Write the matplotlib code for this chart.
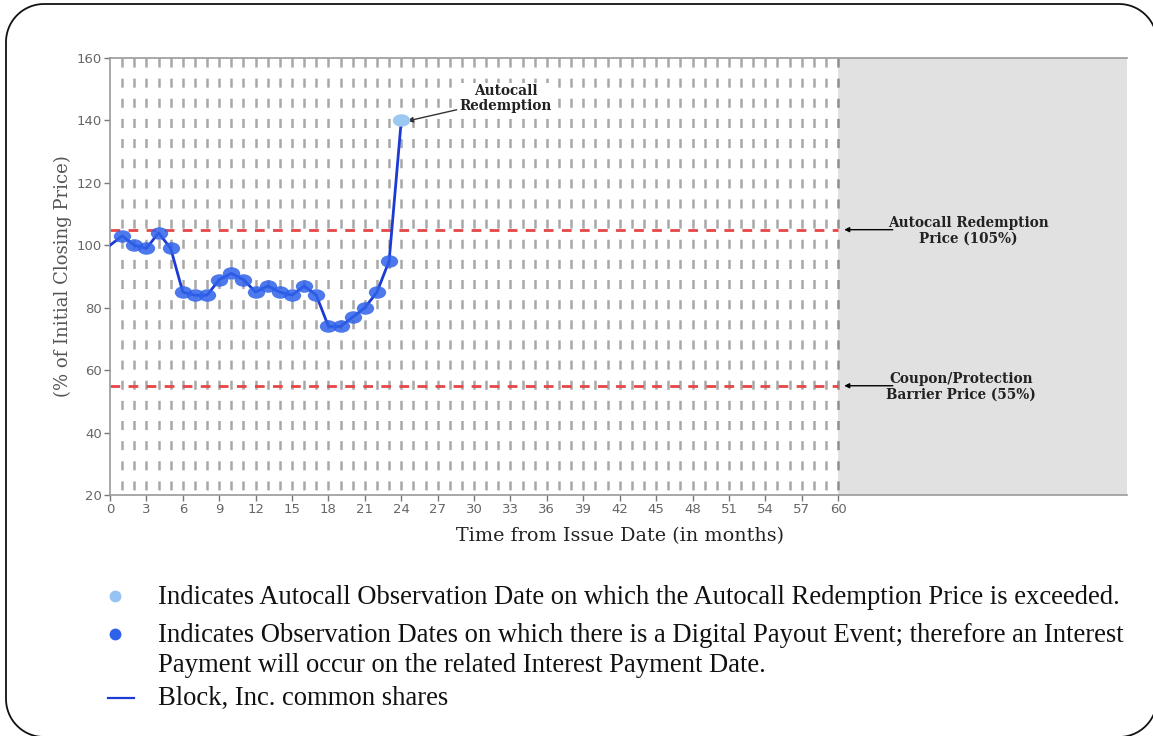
import matplotlib.pyplot as plt
import matplotlib.transforms as mtransforms
from matplotlib.patches import PathPatch
from matplotlib.path import Path
import numpy as np

plt.rcParams['lines.scale_dashes'] = False

months = list(range(0, 25))
price = [100, 103, 100, 99, 104, 99, 85, 84, 84, 89, 91, 89, 85, 87, 85, 84,
         87, 84, 74, 74, 77, 80, 85, 95, 140]
payout_months = months[1:24]
payout_vals = price[1:24]
autocall_month = [24]
autocall_val = [140]
redemption_level = 105
barrier_level = 55
term = 60
x_ticks = list(range(0, 61, 3))
y_ticks = list(range(20, 161, 20))

W, H = 1153, 736
fig = plt.figure(figsize=(W / 100, H / 100), dpi=100)
ax = fig.add_axes([110 / W, 1 - 495 / H, (1127 - 110) / W, (495 - 58) / H])
ax.set_xlim(0, 83.8)
ax.set_ylim(20, 160)

# shaded area after the term
ax.axvspan(term, 83.8, color='#e1e1e1', zorder=0, lw=0)

# vertical dashed grid, one per month
for m in range(1, term + 1):
    c = '#a8a8a8' if m < term else '#8f8f8f'
    ax.plot([m, m], [160, 20], color=c, lw=1.8, ls=(0, (6.5, 8)), zorder=1)

# red level lines
for lvl in (redemption_level, barrier_level):
    ax.plot([0, term], [lvl, lvl], color='#e64646', lw=2.0, ls=(0, (7, 6)), zorder=2)

# ellipse marker
circ = Path.unit_circle()
ell = Path(circ.vertices * np.array([1.0, 0.72]), circ.codes)

ax.plot(months, price, color='#1c3ad4', lw=2.0, zorder=4)
ax.plot(payout_months, payout_vals, ls='none', marker=ell, ms=12.5,
        mfc='#2f62ea', mec='none', alpha=0.85, zorder=5)
ax.plot(autocall_month, autocall_val, ls='none', marker=ell, ms=12.5,
        mfc='#9cc8f2', mec='none', zorder=6)

ax.set_xticks(x_ticks)
ax.set_yticks(y_ticks)
ax.tick_params(colors='#777777', labelcolor='#666666', labelsize=9.5,
               length=4, width=1, pad=2)
for s in ('left', 'bottom', 'top'):
    ax.spines[s].set_color('#999999')
    ax.spines[s].set_linewidth(1.2)
ax.spines['right'].set_visible(False)

ax.set_ylabel('(% of Initial Closing Price)', family='DejaVu Serif',
              fontsize=13, color='#555555')
ax.yaxis.set_label_coords(-0.037, 0.5)
ax.set_xlabel('Time from Issue Date (in months)', family='DejaVu Serif',
              fontsize=13.8, color='#222222')
ax.xaxis.set_label_coords((620 - 110) / (1127 - 110), -0.073)

bold = dict(family='DejaVu Serif', fontweight='bold', fontsize=9.8,
            color='#222222', ha='center', va='center', linespacing=1.1)
ax.annotate('Autocall\nRedemption', xy=(24.5, 139.8), xytext=(32.6, 147.0),
            arrowprops=dict(arrowstyle='-|>', color='#333333', lw=1,
                            mutation_scale=8, shrinkA=1, shrinkB=0),
            bbox=dict(boxstyle='square,pad=0.1', fc='white', ec='none'),
            **bold)
ax.annotate('', xy=(60.5, redemption_level), xytext=(64.5, redemption_level),
            arrowprops=dict(arrowstyle='-|>', color='black', lw=1,
                            mutation_scale=7, shrinkA=0, shrinkB=0))
ax.text(70.7, 104.6, 'Autocall Redemption\nPrice (105%)', **bold)
ax.annotate('', xy=(60.5, barrier_level), xytext=(64.5, barrier_level),
            arrowprops=dict(arrowstyle='-|>', color='black', lw=1,
                            mutation_scale=7, shrinkA=0, shrinkB=0))
ax.text(70.1, 54.7, 'Coupon/Protection\nBarrier Price (55%)', **bold)

# legend notes below the chart
serif = dict(family='Liberation Serif', fontsize=19.2, color='#111111', va='center')
fig.text(158 / W, 1 - 598 / H,
         'Indicates Autocall Observation Date on which the Autocall Redemption Price is exceeded.',
         **serif)
fig.text(158 / W, 1 - 636 / H,
         'Indicates Observation Dates on which there is a Digital Payout Event; therefore an Interest',
         **serif)
fig.text(158 / W, 1 - 665 / H,
         'Payment will occur on the related Interest Payment Date.', **serif)
fig.text(158 / W, 1 - 698 / H, 'Block, Inc. common shares', **serif)
fig.lines.append(plt.Line2D([115 / W], [1 - 596 / H], transform=fig.transFigure,
                            marker='o', ms=7.5, color='#96c3f3', ls='none'))
fig.lines.append(plt.Line2D([115 / W], [1 - 634 / H], transform=fig.transFigure,
                            marker='o', ms=7.5, color='#2f62ea', ls='none'))
fig.lines.append(plt.Line2D([108 / W, 134 / W], [1 - 698 / H, 1 - 698 / H],
                            transform=fig.transFigure, color='#1c3ad4', lw=1.6))

# rounded outer frame, drawn in pixel coordinates
x0, x1, y0, y1, r = 6, 1157, -1, 732, 38
t = np.linspace(0, np.pi / 2, 20)
pts = []
pts += list(zip(x1 - r + r * np.cos(t), y1 - r + r * np.sin(t)))                  # top-right
pts += list(zip(x0 + r - r * np.sin(t), y1 - r + r * np.cos(t)))                  # top-left
pts += list(zip(x0 + r - r * np.cos(t), y0 + r - r * np.sin(t)))                  # bottom-left
pts += list(zip(x1 - r + r * np.sin(t), y0 + r - r * np.cos(t)))                  # bottom-right
pts.append(pts[0])
frame = PathPatch(Path(pts), transform=mtransforms.IdentityTransform(),
                  fill=False, ec='#111111', lw=1.3)
fig.patches.append(frame)

fig.savefig('out.png', dpi=100)
